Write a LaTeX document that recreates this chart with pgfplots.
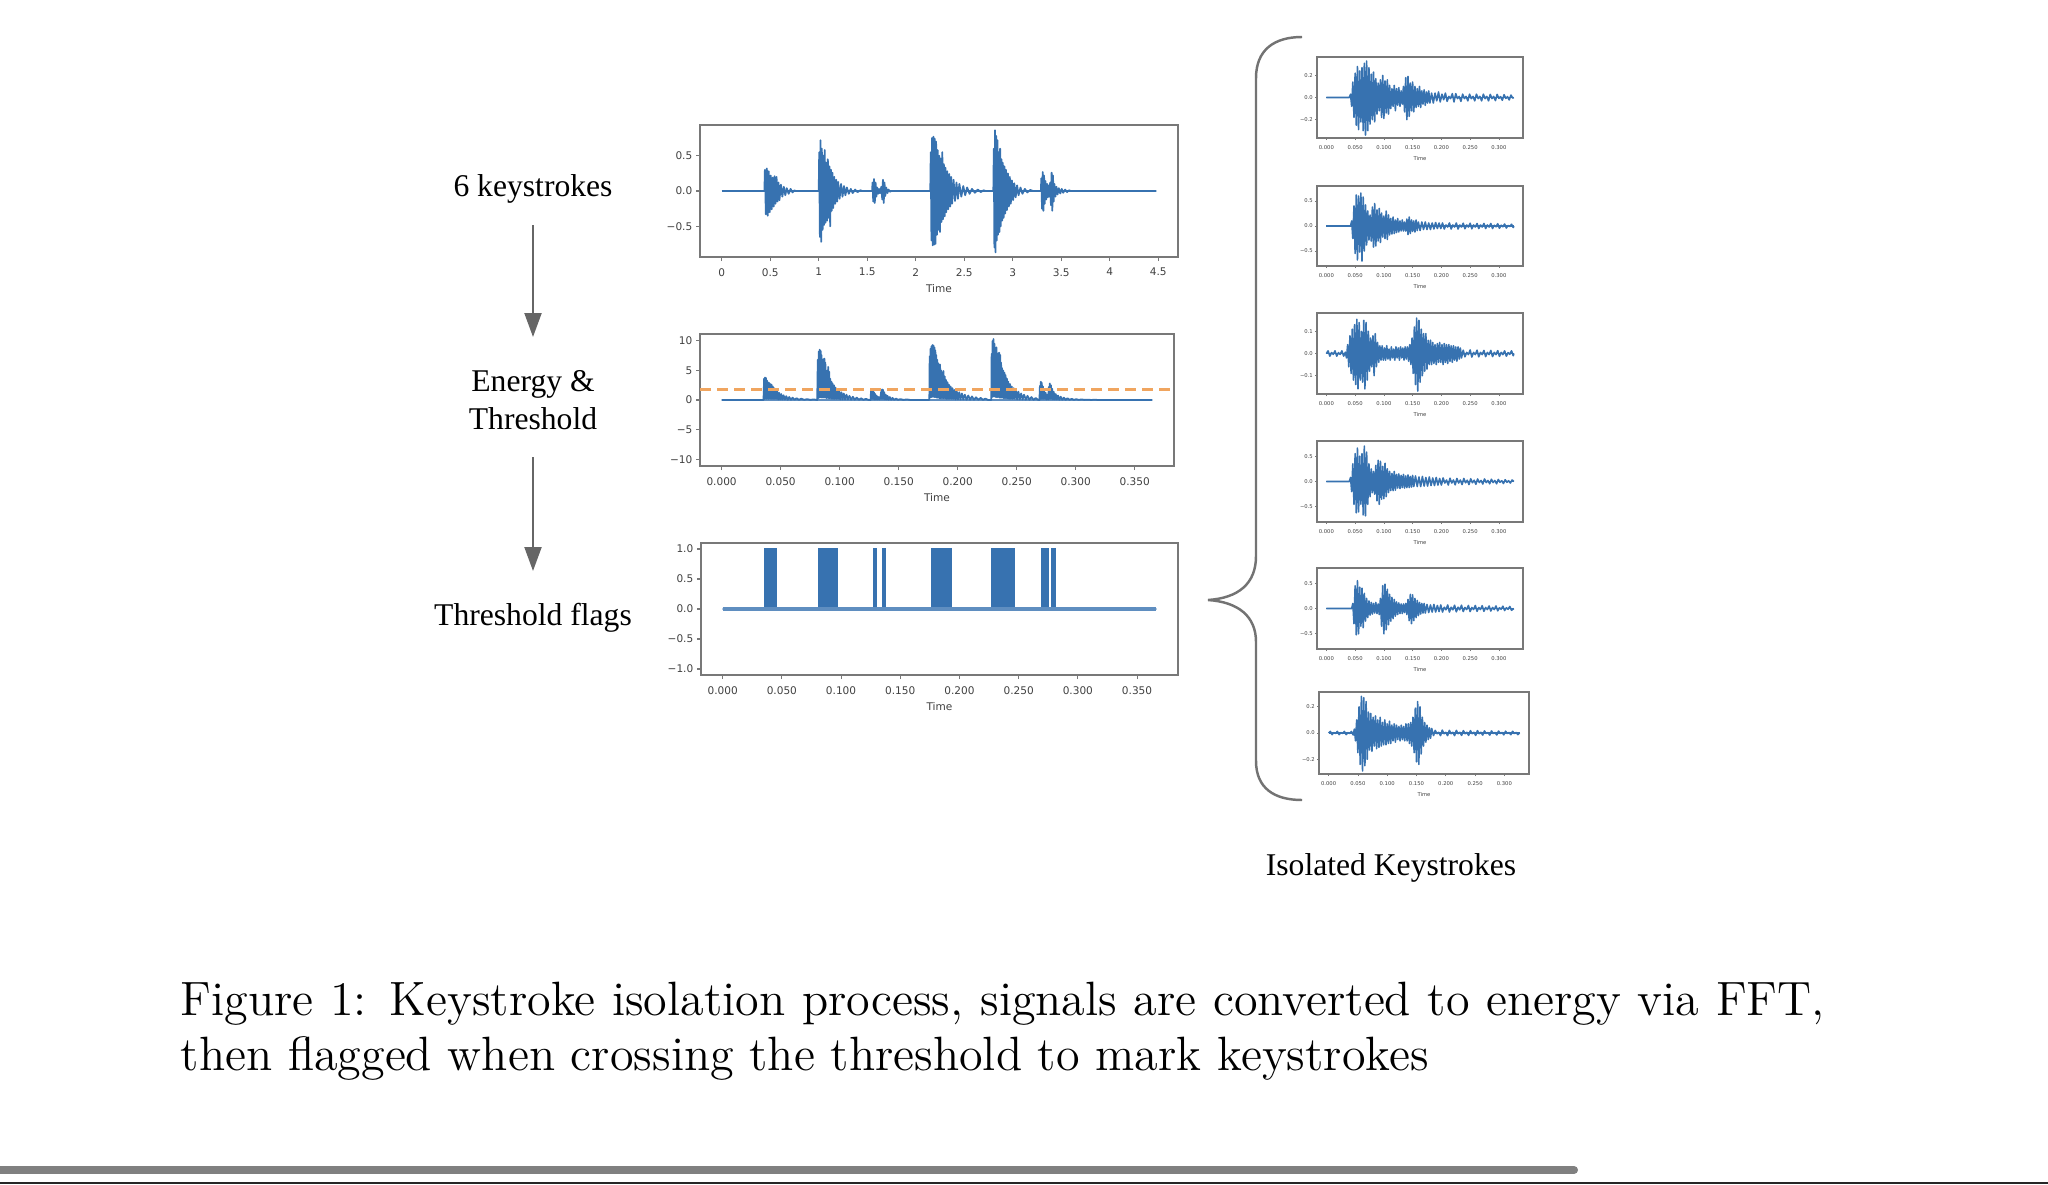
\documentclass[border=0pt]{standalone}
\usepackage{fontspec}
\usepackage{pgfplots}
\pgfplotsset{compat=1.18}
\usetikzlibrary{arrows.meta}
\newfontfamily\mpl{DejaVu Sans}
\newfontfamily\tnr{Liberation Serif}
\definecolor{mplblue}{RGB}{55,114,176}
\definecolor{mplorange}{RGB}{240,165,95}
\definecolor{framec}{RGB}{120,120,120}
\pgfplotsset{
  mplbase/.style={
    scale only axis, anchor=south west,
    axis line style={draw=framec, line width=0.4pt},
    tick align=outside, tick pos=left,
    tick style={draw=framec, line width=0.3pt},
  },
  mplbig/.style={mplbase,
    major tick length=0.4mm,
    tick label style={font=\mpl\fontsize{3.0}{3.4}\selectfont, text=black!75, inner sep=0.3mm},
    xticklabel style={yshift=-0.35mm},
    xlabel style={font=\mpl\fontsize{3.0}{3.4}\selectfont, text=black!75, inner sep=0pt, at={(axis description cs:0.5,0)}, anchor=center, yshift=-3.2mm},
    xlabel={Time},
  },
  mplsmall/.style={mplbase,
    width=20.6mm, height=8.1mm,
    axis line style={draw=framec, line width=0.3pt},
    major tick length=0.2mm,
    tick style={draw=framec, line width=0.2pt},
    tick label style={font=\mpl\fontsize{1.5}{1.7}\selectfont, text=black!75, inner sep=0.15mm},
    xticklabel style={yshift=-0.3mm},
    xlabel style={font=\mpl\fontsize{1.5}{1.7}\selectfont, text=black!75, inner sep=0pt, at={(axis description cs:0.5,0)}, anchor=center, yshift=-2.1mm},
    xlabel={Time},
    xmin=-0.0163, xmax=0.342,
    xtick={0,0.05,0.1,0.15,0.2,0.25,0.3},
    xticklabels={0.000,0.050,0.100,0.150,0.200,0.250,0.300},
  },
  wave/.style={draw=mplblue, line width=0.5pt, line join=round},
  swave/.style={draw=mplblue, line width=0.45pt, line join=round},
  sbase/.style={draw=mplblue, line width=0.55pt},
}
\begin{document}
\begin{tikzpicture}[x=0.1mm,y=0.1mm]
\path[use as bounding box] (0,0) rectangle (2048,1184);
\coordinate (P1) at (700,927);
\coordinate (P2) at (700,718);
\coordinate (P3) at (701,509);
\coordinate (S1) at (1317,1046);
\coordinate (S2) at (1317,918);
\coordinate (S3) at (1317,790);
\coordinate (S4) at (1317,662);
\coordinate (S5) at (1317,535);
\coordinate (S6) at (1319,410);

% ---------------- Panel 1: raw signal ----------------
\begin{axis}[mplbig, at={(P1)}, width=47.8mm, height=13.2mm,
  xmin=-0.224, xmax=4.704, ymin=-0.935, ymax=0.935,
  xtick={0,0.5,1,1.5,2,2.5,3,3.5,4,4.5},
  xticklabels={0,0.5,1,1.5,2,2.5,3,3.5,4,4.5},
  ytick={-0.5,0,0.5}, yticklabels={−0.5,0.0,0.5}]
\addplot[draw=mplblue, line width=0.6pt] coordinates {(0,0)(4.48,0)};
\addplot[wave] coordinates {
(0.440,0)(0.445,0.30)(0.455,-0.33)(0.465,0.32)(0.475,-0.35)(0.485,0.28)(0.495,-0.30)(0.505,0.22)(0.515,-0.26)(0.525,0.19)(0.535,-0.22)(0.545,0.21)(0.555,-0.18)(0.565,0.20)(0.575,-0.15)(0.585,0.12)(0.595,-0.13)(0.61,0.09)(0.625,-0.08)(0.64,0.06)(0.655,-0.06)(0.67,0.04)(0.69,-0.04)(0.71,0.03)(0.73,-0.02)(0.75,0.01)(0.76,0)
(1.000,0)(1.005,0.55)(1.012,-0.65)(1.018,0.72)(1.025,-0.72)(1.032,0.60)(1.040,-0.55)(1.048,0.50)(1.055,-0.48)(1.062,0.58)(1.070,-0.45)(1.078,0.40)(1.086,-0.42)(1.094,0.45)(1.102,-0.38)(1.110,0.35)(1.118,-0.50)(1.126,0.30)(1.134,-0.28)(1.142,0.26)(1.150,-0.24)(1.160,0.20)(1.170,-0.18)(1.180,0.16)(1.190,-0.15)(1.200,0.13)(1.215,-0.11)(1.230,0.10)(1.245,-0.08)(1.260,0.07)(1.275,-0.06)(1.290,0.05)(1.310,-0.04)(1.330,0.03)(1.350,-0.03)(1.375,0.02)(1.400,-0.015)(1.430,0.01)(1.45,0)
(1.550,0)(1.555,0.12)(1.562,-0.15)(1.570,0.17)(1.578,-0.17)(1.586,0.12)(1.594,-0.08)(1.602,0.05)(1.612,-0.04)(1.622,0.03)(1.632,-0.03)(1.645,0.06)(1.655,-0.12)(1.662,0.16)(1.670,-0.17)(1.678,0.12)(1.686,-0.07)(1.696,0.05)(1.708,-0.03)(1.720,0.02)(1.735,-0.01)(1.75,0)
(2.150,0)(2.155,0.55)(2.162,-0.70)(2.168,0.75)(2.175,-0.77)(2.182,0.77)(2.189,-0.76)(2.196,0.74)(2.203,-0.75)(2.210,0.70)(2.218,-0.62)(2.226,0.58)(2.234,-0.55)(2.242,0.50)(2.250,-0.58)(2.258,0.46)(2.266,-0.44)(2.274,0.55)(2.282,-0.40)(2.290,0.38)(2.298,-0.36)(2.306,0.33)(2.315,-0.30)(2.325,0.28)(2.335,-0.26)(2.345,0.24)(2.355,-0.22)(2.365,0.20)(2.375,-0.18)(2.390,0.16)(2.405,-0.14)(2.420,0.12)(2.435,-0.11)(2.450,0.10)(2.470,-0.08)(2.490,0.07)(2.510,-0.06)(2.530,0.05)(2.555,-0.04)(2.580,0.03)(2.610,-0.025)(2.640,0.02)(2.670,-0.015)(2.700,0.01)(2.72,0)
(2.800,0)(2.805,0.60)(2.811,-0.80)(2.817,0.86)(2.823,-0.87)(2.829,0.78)(2.835,-0.70)(2.842,0.72)(2.849,-0.62)(2.856,0.55)(2.863,-0.58)(2.870,0.60)(2.877,-0.50)(2.884,0.45)(2.891,-0.42)(2.898,0.40)(2.906,-0.38)(2.914,0.35)(2.922,-0.32)(2.930,0.30)(2.940,-0.27)(2.950,0.25)(2.960,-0.22)(2.970,0.20)(2.980,-0.18)(2.992,0.15)(3.004,-0.13)(3.016,0.11)(3.030,-0.09)(3.045,0.08)(3.060,-0.06)(3.080,0.05)(3.100,-0.04)(3.125,0.03)(3.150,-0.02)(3.180,0.015)(3.21,0)
(3.290,0)(3.295,0.18)(3.302,-0.25)(3.309,0.27)(3.316,-0.28)(3.323,0.22)(3.330,-0.18)(3.338,0.14)(3.346,-0.12)(3.354,0.10)(3.362,-0.09)(3.370,0.08)(3.378,-0.08)(3.386,0.12)(3.394,-0.20)(3.401,0.26)(3.408,-0.28)(3.415,0.22)(3.422,-0.15)(3.430,0.10)(3.440,-0.08)(3.450,0.06)(3.462,-0.05)(3.475,0.04)(3.490,-0.035)(3.505,0.03)(3.520,-0.025)(3.540,0.02)(3.560,-0.015)(3.580,0.01)(3.60,0)(4.48,0)};
\end{axis}

% ---------------- Panel 2: energy & threshold ----------------
\begin{axis}[mplbig, at={(P2)}, width=47.4mm, height=13.2mm,
  xmin=-0.0183, xmax=0.3833, ymin=-11.15, ymax=11.15,
  xtick={0,0.05,0.1,0.15,0.2,0.25,0.3,0.35},
  xticklabels={0.000,0.050,0.100,0.150,0.200,0.250,0.300,0.350},
  ytick={-10,-5,0,5,10}, yticklabels={−10,−5,0,5,10}]
\addplot[draw=mplblue!80, line width=0.8pt] coordinates {(0,0)(0.365,0)};
\addplot[wave] coordinates {
(0,0)(0.0355,0)
(0.0360,3.6)(0.0364,0.2)(0.0368,3.8)(0.0372,0.3)(0.0376,3.7)(0.0380,0.2)(0.0384,3.3)(0.0388,0.3)(0.0393,3.0)(0.0398,0.2)(0.0403,2.9)(0.0408,0.3)(0.0413,2.7)(0.0418,0.2)(0.0423,2.6)(0.0428,0.2)(0.0434,2.3)(0.0440,0.2)(0.0446,2.0)(0.0452,0.2)(0.0458,1.7)(0.0465,0.2)(0.0472,1.4)(0.0480,0.1)(0.0488,1.2)(0.0496,0.1)(0.0505,1.0)(0.0515,0.1)(0.0525,0.8)(0.0536,0.1)(0.0548,0.65)(0.0560,0.05)(0.0573,0.5)(0.0587,0.05)(0.0602,0.4)(0.0618,0.05)(0.0635,0.3)(0.0655,0.03)(0.0675,0.22)(0.0700,0.03)(0.0725,0.15)(0.0750,0.02)(0.0780,0.1)(0.0810,0)
(0.0815,6.8)(0.0819,0.3)(0.0823,8.2)(0.0827,0.4)(0.0831,8.5)(0.0835,0.5)(0.0839,8.3)(0.0843,0.4)(0.0847,7.6)(0.0851,0.5)(0.0855,6.2)(0.0859,0.4)(0.0863,6.9)(0.0867,0.5)(0.0871,7.0)(0.0875,0.4)(0.0879,6.3)(0.0883,0.4)(0.0887,4.6)(0.0891,0.3)(0.0895,5.0)(0.0899,0.4)(0.0903,5.6)(0.0907,0.3)(0.0911,4.8)(0.0915,0.3)(0.0920,3.6)(0.0925,0.3)(0.0930,3.1)(0.0935,0.2)(0.0940,2.8)(0.0946,0.2)(0.0952,2.5)(0.0958,0.2)(0.0965,2.1)(0.0972,0.2)(0.0980,1.8)(0.0988,0.2)(0.0996,1.5)(0.1005,0.1)(0.1015,1.3)(0.1025,0.1)(0.1035,1.1)(0.1046,0.1)(0.1058,0.9)(0.1070,0.1)(0.1083,0.7)(0.1097,0.05)(0.1112,0.55)(0.1128,0.05)(0.1145,0.4)(0.1163,0.03)(0.1182,0.3)(0.1202,0.03)(0.1222,0.2)(0.1245,0.02)(0.1262,0)
(0.1266,1.5)(0.1270,0.2)(0.1274,1.8)(0.1278,0.2)(0.1282,1.7)(0.1286,0.2)(0.1291,1.3)(0.1296,0.1)(0.1302,1.0)(0.1308,0.1)(0.1315,0.7)(0.1322,0.1)(0.1330,0.5)(0.1338,0.1)(0.1346,0.5)(0.1352,1.4)(0.1356,0.2)(0.1360,1.8)(0.1364,0.2)(0.1368,1.7)(0.1373,0.2)(0.1378,1.3)(0.1384,0.1)(0.1391,0.9)(0.1398,0.1)(0.1406,0.7)(0.1415,0.05)(0.1425,0.5)(0.1436,0.05)(0.1448,0.35)(0.1462,0.03)(0.1478,0.25)(0.1495,0.03)(0.1515,0.15)(0.1540,0.02)(0.1570,0.1)(0.1600,0)
(0.1760,0)(0.1763,7.4)(0.1767,0.4)(0.1771,8.7)(0.1775,0.5)(0.1779,9.1)(0.1783,0.5)(0.1787,9.3)(0.1791,0.6)(0.1795,9.2)(0.1799,0.5)(0.1803,8.9)(0.1807,0.5)(0.1811,8.4)(0.1815,0.5)(0.1819,7.6)(0.1823,0.4)(0.1827,6.8)(0.1831,0.4)(0.1835,6.2)(0.1839,0.4)(0.1843,5.4)(0.1847,0.3)(0.1851,6.0)(0.1855,0.3)(0.1860,5.0)(0.1865,0.3)(0.1870,4.6)(0.1875,0.3)(0.1880,4.9)(0.1885,0.3)(0.1890,4.0)(0.1895,0.3)(0.1901,3.4)(0.1907,0.2)(0.1913,3.0)(0.1919,0.2)(0.1926,2.6)(0.1933,0.2)(0.1940,2.3)(0.1948,0.2)(0.1956,2.0)(0.1964,0.2)(0.1973,1.7)(0.1982,0.1)(0.1992,1.5)(0.2002,0.1)(0.2013,1.3)(0.2024,0.1)(0.2036,1.1)(0.2048,0.1)(0.2061,0.9)(0.2075,0.05)(0.2090,0.75)(0.2105,0.05)(0.2121,0.6)(0.2138,0.05)(0.2156,0.45)(0.2175,0.03)(0.2195,0.35)(0.2215,0.03)(0.2235,0.25)(0.2255,0.02)(0.2270,0)
(0.2285,0)(0.2288,7.8)(0.2292,0.5)(0.2296,10.0)(0.2300,0.6)(0.2304,10.3)(0.2308,0.6)(0.2312,9.5)(0.2316,0.6)(0.2320,8.8)(0.2324,0.5)(0.2328,8.9)(0.2332,0.5)(0.2336,7.2)(0.2340,0.5)(0.2344,7.9)(0.2348,0.5)(0.2352,8.0)(0.2356,0.4)(0.2360,7.6)(0.2364,0.4)(0.2368,6.3)(0.2372,0.4)(0.2376,5.4)(0.2381,0.4)(0.2386,5.0)(0.2391,0.3)(0.2396,4.6)(0.2401,0.3)(0.2406,4.2)(0.2411,0.3)(0.2417,3.6)(0.2423,0.3)(0.2429,3.1)(0.2436,0.2)(0.2443,2.7)(0.2450,0.2)(0.2458,2.3)(0.2466,0.2)(0.2475,2.0)(0.2484,0.2)(0.2494,1.7)(0.2504,0.1)(0.2515,1.4)(0.2526,0.1)(0.2538,1.1)(0.2550,0.1)(0.2563,0.9)(0.2577,0.05)(0.2592,0.7)(0.2608,0.05)(0.2625,0.5)(0.2643,0.03)(0.2662,0.35)(0.2680,0.03)(0.2693,0)
(0.2697,2.4)(0.2701,0.2)(0.2705,3.1)(0.2709,0.2)(0.2713,2.9)(0.2717,0.2)(0.2722,2.3)(0.2727,0.2)(0.2733,1.7)(0.2739,0.2)(0.2746,1.2)(0.2753,0.1)(0.2760,0.9)(0.2767,0.1)(0.2773,2.2)(0.2777,0.2)(0.2781,2.8)(0.2785,0.2)(0.2790,2.5)(0.2795,0.2)(0.2801,1.9)(0.2807,0.1)(0.2814,1.4)(0.2822,0.1)(0.2831,1.0)(0.2840,0.1)(0.2850,0.75)(0.2861,0.05)(0.2873,0.55)(0.2886,0.05)(0.2900,0.4)(0.2915,0.03)(0.2931,0.3)(0.2948,0.03)(0.2966,0.2)(0.2985,0.02)(0.3005,0.14)(0.3026,0.02)(0.3050,0.1)(0.3075,0.02)(0.3100,0.06)(0.3130,0.01)(0.3160,0.04)(0.3200,0)(0.365,0)};
\addplot[draw=mplorange, line width=0.8pt, dash pattern=on 1.05mm off 0.65mm] coordinates {(-0.0183,1.8)(0.3833,1.8)};
\end{axis}

% ---------------- Panel 3: threshold flags ----------------
\begin{axis}[mplbig, at={(P3)}, width=47.7mm, height=13.2mm,
  xmin=-0.0183, xmax=0.3846, ymin=-1.1, ymax=1.1,
  xtick={0,0.05,0.1,0.15,0.2,0.25,0.3,0.35},
  xticklabels={0.000,0.050,0.100,0.150,0.200,0.250,0.300,0.350},
  ytick={-1,-0.5,0,0.5,1}, yticklabels={−1.0,−0.5,0.0,0.5,1.0}]
\addplot[draw=mplblue, fill=mplblue, line width=0.3pt] coordinates {
(0,0)(0.0352,0)(0.0352,1)(0.0451,1)(0.0451,0)(0.0813,0)(0.0813,1)(0.0972,1)(0.0972,0)(0.1270,0)(0.1270,1)(0.1303,1)(0.1303,0)(0.1354,0)(0.1354,1)(0.1378,1)(0.1378,0)(0.1760,0)(0.1760,1)(0.1930,1)(0.1930,0)(0.2275,0)(0.2275,1)(0.2462,1)(0.2462,0)(0.2696,0)(0.2696,1)(0.2748,1)(0.2748,0)(0.2775,0)(0.2775,1)(0.2808,1)(0.2808,0)(0.3663,0)} \closedcycle;
\addplot[draw=mplblue!80, line width=0.9pt] coordinates {(0,0)(0.3663,0)};
\end{axis}

% ---------------- Small panels ----------------
\begin{axis}[mplsmall, at={(S1)}, ymin=-0.366, ymax=0.366,
  ytick={-0.2,0,0.2}, yticklabels={−0.2,0.0,0.2}]
\addplot[sbase] coordinates {(0,0)(0.326,0)};
\addplot[swave] coordinates {
(0,0)(0.040,0)(0.042,0.03)(0.044,-0.08)(0.046,0.14)(0.048,-0.18)(0.050,0.22)(0.052,-0.25)(0.054,0.28)(0.056,-0.29)(0.058,0.24)(0.060,-0.22)(0.062,0.27)(0.064,-0.30)(0.066,0.31)(0.068,-0.34)(0.070,0.33)(0.072,-0.30)(0.074,0.27)(0.076,-0.24)(0.078,0.21)(0.080,-0.20)(0.082,0.23)(0.084,-0.22)(0.086,0.17)(0.088,-0.15)(0.090,0.13)(0.092,-0.12)(0.094,0.16)(0.096,-0.18)(0.098,0.20)(0.100,-0.19)(0.102,0.15)(0.104,-0.14)(0.106,0.16)(0.108,-0.15)(0.110,0.11)(0.112,-0.10)(0.114,0.08)(0.116,-0.08)(0.118,0.11)(0.120,-0.12)(0.122,0.08)(0.124,-0.07)(0.126,0.09)(0.128,-0.08)(0.130,0.06)(0.132,-0.06)(0.134,0.10)(0.136,-0.13)(0.138,0.18)(0.140,-0.20)(0.142,0.19)(0.144,-0.17)(0.146,0.13)(0.148,-0.12)(0.150,0.14)(0.152,-0.13)(0.154,0.10)(0.156,-0.09)(0.158,0.08)(0.160,-0.08)(0.162,0.10)(0.164,-0.09)(0.166,0.06)(0.168,-0.06)(0.170,0.07)(0.172,-0.07)(0.174,0.05)(0.176,-0.05)(0.178,0.06)(0.180,-0.05)(0.183,0.04)(0.186,-0.05)(0.189,0.04)(0.192,-0.03)(0.195,0.05)(0.198,-0.04)(0.201,0.03)
(0.204,-0.02)(0.207,0.04)(0.210,-0.035)(0.213,0.01)(0.216,-0.01)(0.219,0.035)(0.222,-0.04)(0.225,0.035)(0.228,-0.01)(0.231,0.01)(0.234,-0.035)(0.237,0.03)(0.240,-0.01)(0.243,0.01)(0.246,-0.03)(0.249,0.03)(0.252,-0.01)(0.255,0.01)(0.258,-0.03)(0.261,0.03)(0.264,-0.01)(0.267,0.01)(0.270,-0.03)(0.273,0.03)(0.276,-0.01)(0.279,0.01)(0.282,-0.03)(0.285,0.028)(0.288,-0.01)(0.291,0.01)(0.294,-0.028)(0.297,0.028)(0.300,-0.008)(0.303,0.008)(0.306,-0.025)(0.309,0.025)(0.312,-0.008)(0.315,0.008)(0.318,-0.022)(0.321,0.022)(0.324,-0.005)(0.326,0)};
\end{axis}

\begin{axis}[mplsmall, at={(S2)}, height=8.0mm, ymin=-0.8, ymax=0.8,
  ytick={-0.5,0,0.5}, yticklabels={−0.5,0.0,0.5}]
\addplot[sbase] coordinates {(0,0)(0.326,0)};
\addplot[swave] coordinates {
(0,0)(0.042,0)(0.044,0.10)(0.046,-0.25)(0.048,0.40)(0.050,-0.55)(0.052,0.62)(0.054,-0.68)(0.056,0.60)(0.058,-0.52)(0.060,0.66)(0.062,-0.70)(0.064,0.58)(0.066,-0.50)(0.068,0.42)(0.070,-0.38)(0.072,0.30)(0.074,-0.28)(0.076,0.22)(0.078,-0.30)(0.080,0.38)(0.082,-0.42)(0.084,0.45)(0.086,-0.40)(0.088,0.32)(0.090,-0.30)(0.092,0.35)(0.094,-0.33)(0.096,0.26)(0.098,-0.22)(0.100,0.20)(0.102,-0.25)(0.104,0.30)(0.106,-0.27)(0.108,0.22)(0.110,-0.18)(0.112,0.15)(0.114,-0.16)(0.116,0.18)(0.118,-0.15)(0.120,0.12)(0.122,-0.13)(0.124,0.15)(0.126,-0.12)(0.128,0.10)(0.130,-0.10)(0.132,0.12)(0.134,-0.10)(0.136,0.08)(0.138,-0.10)(0.140,0.14)(0.142,-0.17)(0.144,0.18)(0.146,-0.15)(0.148,0.12)(0.150,-0.11)(0.152,0.10)(0.154,-0.12)(0.156,0.12)(0.158,-0.09)(0.160,0.08)(0.163,-0.09)(0.166,0.08)(0.169,-0.07)(0.172,0.08)(0.175,-0.07)(0.178,0.06)(0.181,-0.07)(0.184,0.06)(0.187,-0.06)(0.190,0.07)(0.193,-0.05)(0.196,0.06)(0.199,-0.05)
(0.202,0.06)(0.205,-0.06)(0.208,0.02)(0.211,-0.02)(0.214,0.06)(0.217,-0.06)(0.220,0.02)(0.223,-0.02)(0.226,0.06)(0.229,-0.06)(0.232,0.02)(0.235,-0.02)(0.238,0.055)(0.241,-0.055)(0.244,0.02)(0.247,-0.02)(0.250,0.055)(0.253,-0.055)(0.256,0.02)(0.259,-0.02)(0.262,0.05)(0.265,-0.05)(0.268,0.02)(0.271,-0.02)(0.274,0.05)(0.277,-0.05)(0.280,0.02)(0.283,-0.02)(0.286,0.05)(0.289,-0.05)(0.292,0.015)(0.295,-0.015)(0.298,0.045)(0.301,-0.045)(0.304,0.015)(0.307,-0.015)(0.310,0.04)(0.313,-0.04)(0.316,0.01)(0.319,-0.01)(0.322,0.035)(0.325,-0.03)(0.326,0)};
\end{axis}

\begin{axis}[mplsmall, at={(S3)}, ymin=-0.183, ymax=0.183,
  ytick={-0.1,0,0.1}, yticklabels={−0.1,0.0,0.1}]
\addplot[sbase] coordinates {(0,0)(0.326,0)};
\addplot[swave] coordinates {
(0,0)(0.003,0.012)(0.006,-0.012)(0.009,0.004)(0.012,-0.004)(0.015,0.012)(0.018,-0.012)(0.021,0.004)(0.024,-0.004)(0.027,0.012)(0.030,-0.012)(0.033,0.006)
(0.035,-0.02)(0.037,0.04)(0.039,-0.06)(0.041,0.08)(0.043,-0.09)(0.045,0.11)(0.047,-0.12)(0.049,0.13)(0.051,-0.14)(0.053,0.155)(0.055,-0.16)(0.057,0.14)(0.059,-0.12)(0.061,0.10)(0.063,-0.13)(0.065,0.15)(0.067,-0.16)(0.069,0.14)(0.071,-0.12)(0.073,0.10)(0.075,-0.08)(0.077,0.07)(0.079,-0.06)(0.081,0.08)(0.083,-0.10)(0.085,0.09)(0.087,-0.06)(0.089,0.05)(0.091,-0.04)(0.093,0.035)(0.095,-0.03)(0.097,0.035)(0.099,-0.03)(0.101,0.025)(0.103,-0.03)(0.105,0.035)(0.107,-0.025)(0.109,0.02)(0.111,-0.03)(0.113,0.03)(0.115,-0.02)(0.117,0.02)(0.119,-0.03)(0.121,0.03)(0.123,-0.02)(0.125,0.025)(0.127,-0.03)(0.129,0.03)(0.131,-0.02)(0.133,0.025)(0.135,-0.03)(0.137,0.03)(0.139,-0.025)(0.141,0.03)(0.143,-0.035)(0.145,0.04)(0.147,-0.05)(0.149,0.07)(0.151,-0.09)(0.153,0.12)(0.155,-0.14)(0.157,0.16)(0.159,-0.17)(0.161,0.15)(0.163,-0.13)(0.165,0.11)(0.167,-0.10)(0.169,0.09)(0.171,-0.08)(0.173,0.09)(0.175,-0.07)(0.177,0.06)(0.179,-0.05)(0.181,0.06)(0.183,-0.05)(0.185,0.05)(0.187,-0.045)(0.189,0.04)(0.191,-0.05)(0.193,0.045)(0.195,-0.04)(0.197,0.05)(0.199,-0.04)(0.201,0.04)(0.203,-0.05)(0.205,0.045)(0.207,-0.04)(0.209,0.04)(0.211,-0.045)(0.213,0.04)(0.215,-0.035)(0.217,0.035)(0.219,-0.04)(0.221,0.035)(0.223,-0.03)(0.225,0.03)(0.227,-0.035)(0.229,0.03)(0.231,-0.025)(0.233,0.025)(0.235,-0.02)
(0.238,0.015)(0.241,-0.015)(0.244,0.005)(0.247,-0.005)(0.250,0.016)(0.253,-0.016)(0.256,0.005)(0.259,-0.005)(0.262,0.015)(0.265,-0.015)(0.268,0.005)(0.271,-0.005)(0.274,0.014)(0.277,-0.014)(0.280,0.005)(0.283,-0.005)(0.286,0.014)(0.289,-0.014)(0.292,0.005)(0.295,-0.005)(0.298,0.013)(0.301,-0.013)(0.304,0.005)(0.307,-0.005)(0.310,0.012)(0.313,-0.012)(0.316,0.004)(0.319,-0.004)(0.322,0.012)(0.325,-0.01)(0.326,0)};
\end{axis}

\begin{axis}[mplsmall, at={(S4)}, ymin=-0.8, ymax=0.8,
  ytick={-0.5,0,0.5}, yticklabels={−0.5,0.0,0.5}]
\addplot[sbase] coordinates {(0,0)(0.326,0)};
\addplot[swave] coordinates {
(0,0)(0.040,0)(0.042,0.08)(0.044,-0.2)(0.046,0.35)(0.048,-0.45)(0.050,0.55)(0.052,-0.62)(0.054,0.66)(0.056,-0.60)(0.058,0.50)(0.060,-0.45)(0.062,0.55)(0.064,-0.66)(0.066,0.70)(0.068,-0.68)(0.070,0.58)(0.072,-0.45)(0.074,0.35)(0.076,-0.30)(0.078,0.25)(0.080,-0.22)(0.082,0.20)(0.084,-0.25)(0.086,0.32)(0.088,-0.38)(0.090,0.42)(0.092,-0.45)(0.094,0.40)(0.096,-0.35)(0.098,0.30)(0.100,-0.34)(0.102,0.36)(0.104,-0.30)(0.106,0.25)(0.108,-0.22)(0.110,0.20)(0.112,-0.18)(0.114,0.16)(0.116,-0.18)(0.118,0.20)(0.120,-0.17)(0.122,0.14)(0.124,-0.13)(0.126,0.15)(0.128,-0.14)(0.130,0.12)(0.132,-0.12)(0.134,0.14)(0.136,-0.13)(0.138,0.11)(0.140,-0.12)(0.142,0.13)(0.144,-0.12)(0.146,0.10)(0.148,-0.11)(0.150,0.12)(0.152,-0.10)(0.155,0.11)(0.158,-0.10)(0.161,0.09)(0.164,-0.10)(0.167,0.10)(0.170,-0.09)(0.173,0.08)(0.176,-0.09)(0.179,0.09)(0.182,-0.08)(0.185,0.07)(0.188,-0.08)(0.191,0.08)(0.194,-0.07)(0.197,0.06)(0.200,-0.07)
(0.203,0.07)(0.206,-0.03)(0.209,0.03)(0.212,-0.07)(0.215,0.065)(0.218,-0.03)(0.221,0.03)(0.224,-0.065)(0.227,0.06)(0.230,-0.03)(0.233,0.03)(0.236,-0.06)(0.239,0.06)(0.242,-0.025)(0.245,0.025)(0.248,-0.06)(0.251,0.055)(0.254,-0.025)(0.257,0.025)(0.260,-0.055)(0.263,0.05)(0.266,-0.02)(0.269,0.02)(0.272,-0.05)(0.275,0.05)(0.278,-0.02)(0.281,0.02)(0.284,-0.045)(0.287,0.045)(0.290,-0.02)(0.293,0.02)(0.296,-0.045)(0.299,0.04)(0.302,-0.015)(0.305,0.015)(0.308,-0.04)(0.311,0.035)(0.314,-0.015)(0.317,0.015)(0.320,-0.03)(0.323,0.03)(0.326,0)};
\end{axis}

\begin{axis}[mplsmall, at={(S5)}, ymin=-0.8, ymax=0.8,
  ytick={-0.5,0,0.5}, yticklabels={−0.5,0.0,0.5}]
\addplot[sbase] coordinates {(0,0)(0.326,0)};
\addplot[swave] coordinates {
(0,0)(0.044,0)(0.046,0.10)(0.048,-0.30)(0.050,0.45)(0.052,-0.52)(0.054,0.55)(0.056,-0.50)(0.058,0.42)(0.060,-0.35)(0.062,0.40)(0.064,-0.38)(0.066,0.30)(0.068,-0.25)(0.070,0.20)(0.072,-0.18)(0.074,0.15)(0.076,-0.13)(0.078,0.12)(0.080,-0.11)(0.082,0.10)(0.084,-0.09)(0.086,0.12)(0.088,-0.10)(0.090,0.09)(0.092,-0.12)(0.094,0.20)(0.096,-0.35)(0.098,0.45)(0.100,-0.50)(0.102,0.48)(0.104,-0.42)(0.106,0.38)(0.108,-0.32)(0.110,0.28)(0.112,-0.25)(0.114,0.22)(0.116,-0.20)(0.118,0.18)(0.120,-0.15)(0.122,0.13)(0.124,-0.12)(0.126,0.11)(0.128,-0.10)(0.130,0.09)(0.132,-0.10)(0.134,0.09)(0.136,-0.08)(0.138,0.10)(0.140,-0.12)(0.142,0.18)(0.144,-0.24)(0.146,0.28)(0.148,-0.30)(0.150,0.27)(0.152,-0.24)(0.154,0.20)(0.156,-0.18)(0.158,0.16)(0.160,-0.14)(0.162,0.12)(0.164,-0.11)(0.166,0.10)(0.168,-0.09)(0.170,0.10)(0.172,-0.09)(0.175,0.08)(0.178,-0.08)(0.181,0.07)(0.184,-0.07)(0.187,0.08)(0.190,-0.07)(0.193,0.06)(0.196,-0.06)(0.199,0.07)
(0.202,-0.07)(0.205,0.025)(0.208,-0.025)(0.211,0.07)(0.214,-0.07)(0.217,0.025)(0.220,-0.025)(0.223,0.065)(0.226,-0.065)(0.229,0.025)(0.232,-0.025)(0.235,0.065)(0.238,-0.06)(0.241,0.02)(0.244,-0.02)(0.247,0.06)(0.250,-0.06)(0.253,0.02)(0.256,-0.02)(0.259,0.06)(0.262,-0.055)(0.265,0.02)(0.268,-0.02)(0.271,0.055)(0.274,-0.055)(0.277,0.02)(0.280,-0.02)(0.283,0.05)(0.286,-0.05)(0.289,0.02)(0.292,-0.02)(0.295,0.05)(0.298,-0.045)(0.301,0.015)(0.304,-0.015)(0.307,0.045)(0.310,-0.04)(0.313,0.015)(0.316,-0.015)(0.319,0.04)(0.322,-0.035)(0.326,0)};
\end{axis}

\begin{axis}[mplsmall, at={(S6)}, width=21.0mm, height=8.2mm, ymin=-0.313, ymax=0.313,
  ytick={-0.2,0,0.2}, yticklabels={−0.2,0.0,0.2}]
\addplot[sbase] coordinates {(0,0)(0.326,0)};
\addplot[swave] coordinates {
(0,0)(0.003,0.012)(0.006,-0.012)(0.009,0.003)(0.012,-0.003)(0.015,0.012)(0.018,-0.012)(0.021,0.003)(0.024,-0.003)(0.027,0.012)(0.030,-0.012)(0.033,0.003)(0.036,-0.003)(0.039,0.012)(0.042,-0.015)
(0.044,0.03)(0.046,-0.06)(0.048,0.10)(0.050,-0.15)(0.052,0.20)(0.054,-0.24)(0.056,0.28)(0.058,-0.29)(0.060,0.27)(0.062,-0.25)(0.064,0.24)(0.066,-0.20)(0.068,0.16)(0.070,-0.13)(0.072,0.15)(0.074,-0.14)(0.076,0.12)(0.078,-0.10)(0.080,0.13)(0.082,-0.12)(0.084,0.10)(0.086,-0.11)(0.088,0.12)(0.090,-0.10)(0.092,0.08)(0.094,-0.09)(0.096,0.10)(0.098,-0.09)(0.100,0.07)(0.102,-0.08)(0.104,0.09)(0.106,-0.08)(0.108,0.06)(0.110,-0.06)(0.112,0.07)(0.114,-0.07)(0.116,0.06)(0.118,-0.05)(0.120,0.05)(0.122,-0.06)(0.124,0.06)(0.126,-0.05)(0.128,0.05)(0.130,-0.06)(0.132,0.07)(0.134,-0.06)(0.136,0.07)(0.138,-0.08)(0.140,0.08)(0.142,-0.10)(0.144,0.12)(0.146,-0.15)(0.148,0.19)(0.150,-0.22)(0.152,0.24)(0.154,-0.24)(0.156,0.20)(0.158,-0.16)(0.160,0.12)(0.162,-0.10)(0.164,0.08)(0.166,-0.07)(0.168,0.06)(0.170,-0.05)(0.172,0.04)(0.174,-0.04)(0.176,0.035)
(0.179,-0.02)(0.182,0.02)(0.185,-0.005)(0.188,0.005)(0.191,-0.02)(0.194,0.022)(0.197,-0.005)(0.200,0.005)(0.203,-0.02)(0.206,0.02)(0.209,-0.005)(0.212,0.005)(0.215,-0.02)(0.218,0.02)(0.221,-0.005)(0.224,0.005)(0.227,-0.018)(0.230,0.018)(0.233,-0.005)(0.236,0.005)(0.239,-0.018)(0.242,0.018)(0.245,-0.005)(0.248,0.005)(0.251,-0.018)(0.254,0.018)(0.257,-0.005)(0.260,0.005)(0.263,-0.016)(0.266,0.016)(0.269,-0.004)(0.272,0.004)(0.275,-0.016)(0.278,0.016)(0.281,-0.004)(0.284,0.004)(0.287,-0.015)(0.290,0.015)(0.293,-0.004)(0.296,0.004)(0.299,-0.014)(0.302,0.014)(0.305,-0.004)(0.308,0.004)(0.311,-0.013)(0.314,0.013)(0.317,-0.004)(0.320,0.004)(0.323,-0.012)(0.326,0)};
\end{axis}

% ---------------- Annotations ----------------
\node[font=\tnr\fontsize{9}{11}\selectfont] at (533,995) {6 keystrokes};
\node[font=\tnr\fontsize{9}{10.8}\selectfont, align=center] at (533,784) {Energy \&\\Threshold};
\node[font=\tnr\fontsize{9}{11}\selectfont] at (533,566) {Threshold flags};
\node[font=\tnr\fontsize{9}{11}\selectfont] at (1391,316) {Isolated Keystrokes};

\draw[draw=black!60, line width=0.6pt, -{Triangle[width=1.7mm,length=2.4mm]}] (533,959) -- (533,847);
\draw[draw=black!60, line width=0.6pt, -{Triangle[width=1.7mm,length=2.4mm]}] (533,727) -- (533,613);

\draw[draw=black!55, line width=0.7pt]
  (1302,1147) .. controls (1274,1147) and (1256,1134) .. (1256,1106)
  -- (1256,628) .. controls (1256,600) and (1238,586) .. (1208,584)
  .. controls (1238,582) and (1256,568) .. (1256,542)
  -- (1256,423) .. controls (1256,396) and (1274,384) .. (1302,384);

\node[anchor=north west, inner sep=0pt, text width=164.4mm, align=justify,
  font=\fontsize{13.7}{15.65}\selectfont] at (180,203)
  {Figure 1: Keystroke isolation process, signals are converted to energy via FFT,\linebreak then flagged when crossing the threshold to mark keystrokes};

\draw[draw=black!50, line width=0.8mm, line cap=round] (-10,14) -- (1574,14);
\draw[draw=black!85, line width=0.2mm] (0,1) -- (2048,1);
\end{tikzpicture}
\end{document}
